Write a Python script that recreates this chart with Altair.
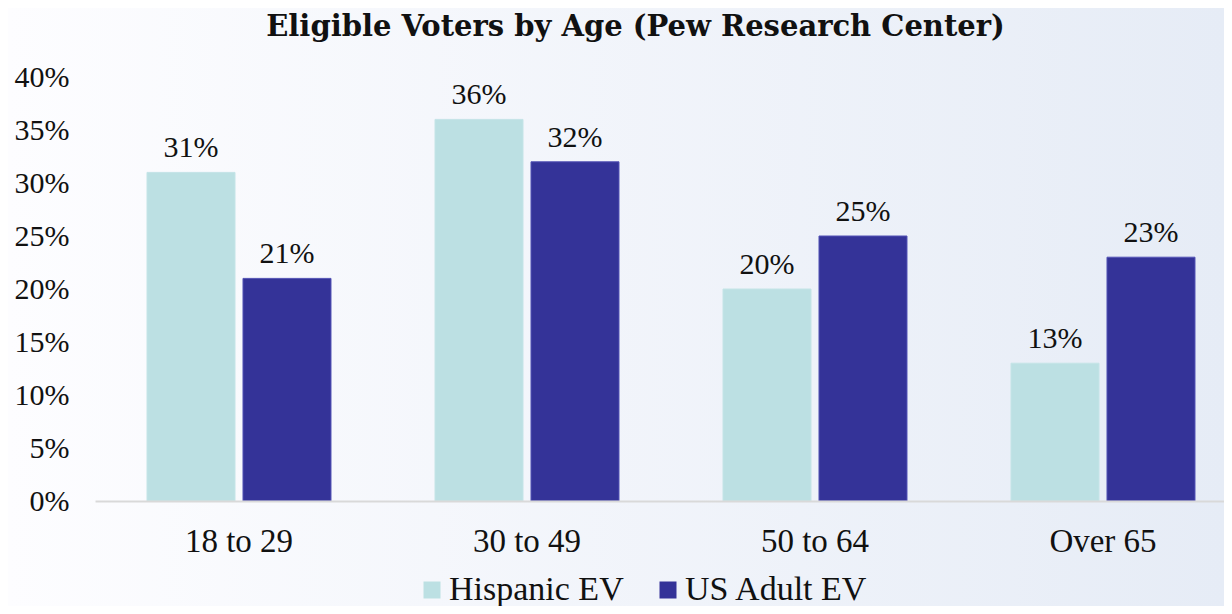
import altair as alt
import pandas as pd

categories = ["18 to 29", "30 to 49", "50 to 64", "Over 65"]
series = ["Hispanic EV", "US Adult EV"]
hispanic = [0.31, 0.36, 0.20, 0.13]
us_adult = [0.21, 0.32, 0.25, 0.23]
y_ticks = [0, 0.05, 0.10, 0.15, 0.20, 0.25, 0.30, 0.35, 0.40]
colors = ["#BCE0E3", "#343398"]
edge_colors = ["#C4E4E7", "#5353B5"]

rows = []
for c, h, u in zip(categories, hispanic, us_adult):
    rows.append({"age": c, "group": series[0], "value": h})
    rows.append({"age": c, "group": series[1], "value": u})
df = pd.DataFrame(rows)

BODY = "Liberation Serif"
W, H = 1129, 424

x_enc = alt.X("age:N", sort=categories, title=None,
              scale=alt.Scale(range=[0, 1152], paddingInner=0, paddingOuter=0),
              axis=alt.Axis(labelAngle=0, labelFontSize=33, labelFont=BODY, labelColor="#111111",
                            labelPadding=24, ticks=False, domainColor="#D9D9D9", domainWidth=2,
                            labelBaseline="top", zindex=1))
xo_enc = alt.XOffset("group:N", sort=series,
                     scale=alt.Scale(paddingInner=0.0833, paddingOuter=0.5417))
y_enc = alt.Y("value:Q", title=None,
              scale=alt.Scale(domain=[0, 0.4], nice=False),
              axis=alt.Axis(values=y_ticks, format=".0%", labelFontSize=30, labelFont=BODY,
                            labelColor="#111111", labelPadding=26, ticks=False, domain=False,
                            grid=False, zindex=1))

bg = alt.Chart(pd.DataFrame({"k": [0]})).mark_rect(
    color=alt.LinearGradient(gradient="linear", x1=0, x2=1, y1=0, y2=0,
                             stops=[alt.GradientStop(color="#FDFDFF", offset=0),
                                    alt.GradientStop(color="#E6ECF6", offset=1)])
).encode(x=alt.value(-87), x2=alt.value(W), y=alt.value(-69), y2=alt.value(529))

bars = alt.Chart(df).mark_bar(strokeWidth=1).encode(
    x=x_enc, xOffset=xo_enc, y=y_enc,
    color=alt.Color("group:N", sort=series, scale=alt.Scale(domain=series, range=colors),
                    legend=alt.Legend(title=None, orient="none", legendX=320, legendY=496,
                                      direction="horizontal", symbolType="square",
                                      symbolSize=289, symbolStrokeWidth=0, labelFontSize=34,
                                      labelFont=BODY, labelColor="#111111", columnPadding=27,
                                      labelOffset=0, symbolOpacity=1, labelLimit=400)),
    stroke=alt.Stroke("group:N", sort=series,
                      scale=alt.Scale(domain=series, range=edge_colors), legend=None),
)

labels = alt.Chart(df).mark_text(baseline="alphabetic", dy=-15, fontSize=30, font=BODY,
                                 color="#111111").encode(
    x=alt.X("age:N", sort=categories),
    xOffset=alt.XOffset("group:N", sort=series),
    y="value:Q",
    text=alt.Text("value:Q", format=".0%"),
)

chart = alt.layer(bg, bars, labels).properties(
    width=W, height=H,
    autosize=alt.AutoSizeParams(type="none"),
    padding={"left": 87, "top": 69, "right": 0, "bottom": 105},
    title=alt.TitleParams("Eligible Voters by Age (Pew Research Center)", font="DejaVu Serif",
                          fontSize=29, fontWeight="bold", color="#111111", anchor="middle",
                          frame="group", baseline="alphabetic", offset=-57, dx=-24),
).configure_view(stroke=None).configure(background="white")

chart.save("out.html", embed_options={"renderer": "svg", "actions": False})
